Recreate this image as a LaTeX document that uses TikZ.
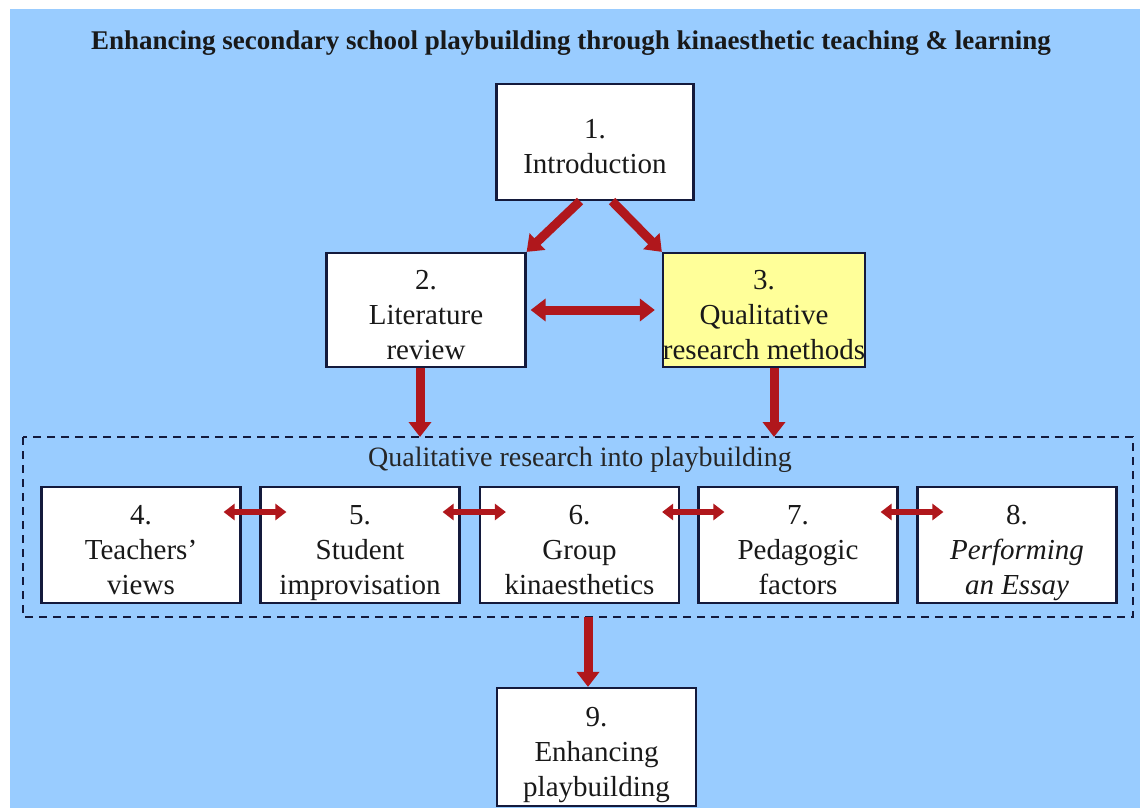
\documentclass[tikz,border=0pt]{standalone}
\usepackage{fontspec}
\setmainfont{Liberation Serif}
\usetikzlibrary{arrows.meta}
\definecolor{sky}{HTML}{99CCFF}
\definecolor{pale}{HTML}{FFFF99}
\definecolor{ink}{HTML}{141A3C}
\definecolor{brick}{HTML}{B0171C}
\newcommand\firstline{\rule{0pt}{35pt}}
\begin{document}
\begin{tikzpicture}[x=1pt,y=-1pt,
    box/.style={draw=ink,line width=2.2pt,fill=white,minimum width=199pt,
      inner sep=0pt,align=center,text=black!90,font=\fontsize{29}{35}\selectfont,
      execute at end node={\rule[-7pt]{0pt}{7pt}}},
    bigarrow/.style={draw=brick,line width=9pt,-{Triangle[width=22pt,length=15pt]}},
    twoway/.style={draw=brick,line width=5.5pt,
      {Triangle[width=16pt,length=11pt]}-{Triangle[width=16pt,length=11pt]}}]
  \useasboundingbox (0,0) rectangle (1140,808);
  \fill[sky] (10,9) rectangle (1140,808);
  \node[font=\fontsize{27}{30}\selectfont\bfseries, text=black!90] (title) at (571,43)
    {Enhancing secondary school playbuilding through kinaesthetic teaching \& learning};
  \node[box,minimum width=197pt,minimum height=116pt] (intro) at (595,142) {\firstline 1.\\Introduction};
  \node[box,minimum height=114pt] (lit) at (426,310) {\firstline 2.\\Literature\\review};
  \node[box,fill=pale,minimum height=114pt] (qual) at (764,310) {\firstline 3.\\Qualitative\\research methods};
  \node[font=\fontsize{28}{30}\selectfont, text=black!85] (inquiry) at (580,460)
    {Qualitative research into playbuilding};
  \draw[ink,line width=2pt,dash pattern=on 8pt off 6pt] (23,437) rectangle (1133,617);
  \node[box,minimum height=116pt] (teach) at (141,545) {\firstline 4.\\Teachers’\\views};
  \node[box,minimum height=116pt] (student) at (360,545) {\firstline 5.\\Student\\improvisation};
  \node[box,minimum height=116pt] (group) at (579.5,545) {\firstline 6.\\Group\\kinaesthetics};
  \node[box,minimum height=116pt] (pedag) at (798,545) {\firstline 7.\\Pedagogic\\factors};
  \node[box,minimum height=116pt] (essay) at (1017,545) {\firstline 8.\\\textit{Performing}\\\textit{an Essay}};
  \node[box,minimum height=118pt] (enh) at (596.5,747) {\firstline 9.\\Enhancing\\playbuilding};
  \coordinate (litend) at (420,437);
  \coordinate (qualend) at (774,437);
  \coordinate (dashbot) at (588,617);
  \begin{scope}
    \draw[bigarrow] ([xshift=-15pt]intro.south) -- (lit.north east);
    \draw[bigarrow] ([xshift=17pt]intro.south) -- (qual.north west);
    \draw[bigarrow,{Triangle[width=22pt,length=15pt]}-{Triangle[width=22pt,length=15pt]},
      shorten <=4pt,shorten >=7pt] (lit.east) -- (qual.west);
    \draw[bigarrow] (litend |- lit.south) -- (litend);
    \draw[bigarrow] (qualend |- qual.south) -- (qualend);
    \draw[bigarrow] (dashbot) -- (dashbot |- enh.north);
    \foreach \a/\b in {teach/student,student/group,group/pedag,pedag/essay}
      \draw[twoway] ([xshift=-18pt,yshift=33pt]\a.east) -- ([xshift=27pt,yshift=33pt]\b.west);
  \end{scope}
\end{tikzpicture}
\end{document}
